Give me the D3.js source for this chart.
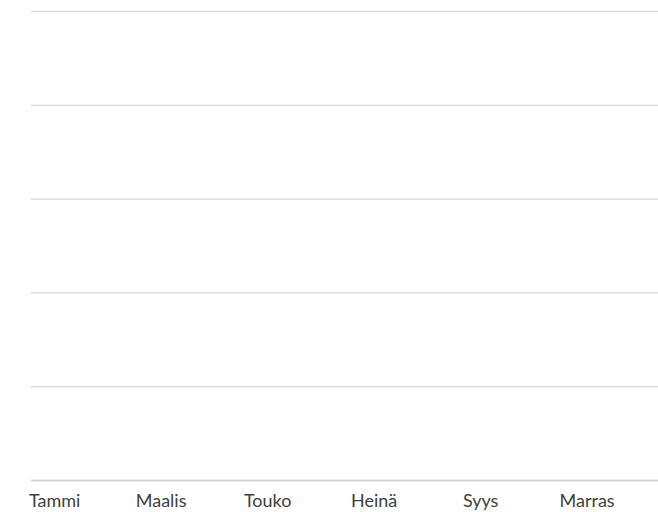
<!DOCTYPE html>
<html>
<head>
<meta charset="utf-8">
<script src="https://cdn.jsdelivr.net/npm/d3@7"></script>
<style>
  html, body { margin: 0; padding: 0; background: #ffffff; overflow: hidden; }
  svg { display: block; }
</style>
</head>
<body>
<script>
// Data
const months = ["Tammi", "Helmi", "Maalis", "Huhti", "Touko", "Kesä", "Heinä", "Elo", "Syys", "Loka", "Marras", "Joulu"];
const shownLabels = ["Tammi", "Maalis", "Touko", "Heinä", "Syys", "Marras"];
const seriesValues = [null, null, null, null, null, null, null, null, null, null, null, null];
const yTicks = [0, 1, 2, 3, 4, 5];

const W = 658, H = 512;
const plotLeft = 31, plotRight = 667; // chart continues past the right edge of the picture
const plotTop = 11, plotBottom = 480;

const svg = d3.select("body").append("svg").attr("width", W).attr("height", H);

const x = d3.scaleBand().domain(months).range([plotLeft - 3, plotRight]).paddingInner(0.3).paddingOuter(0.15);
const y = d3.scaleLinear().domain([0, 5]).range([plotBottom, plotTop]);

// Gridlines
const grid = svg.append("g")
  .attr("transform", `translate(${plotLeft},0)`)
  .call(d3.axisLeft(y).tickValues(yTicks).tickSize(-(plotRight - plotLeft)).tickFormat(""));
grid.select(".domain").remove();
grid.selectAll(".tick line").attr("stroke", "#d9d9d9").attr("stroke-width", 1.3);

// Bars (empty series)
svg.append("g").selectAll("rect")
  .data(seriesValues.map((v, i) => ({ m: months[i], v })).filter(d => d.v != null))
  .join("rect")
  .attr("x", d => x(d.m)).attr("width", x.bandwidth())
  .attr("y", d => y(d.v)).attr("height", d => y(0) - y(d.v))
  .attr("fill", "#4472c4");

// X axis
const xAxis = svg.append("g")
  .attr("transform", `translate(0,${y(0)})`)
  .call(d3.axisBottom(x).tickSize(0)
    .tickFormat(d => shownLabels.includes(d) ? d : ""));
xAxis.select(".domain").attr("d", `M${plotLeft},0.5H${plotRight}`)
  .attr("stroke", "#d0d0d0").attr("stroke-width", 1.3);
xAxis.selectAll("text")
  .attr("y", 27)
  .attr("dy", 0)
  .attr("font-family", "Lato, 'Open Sans', sans-serif")
  .attr("font-size", "18px")
  .attr("fill", "#404040");
</script>
</body>
</html>
